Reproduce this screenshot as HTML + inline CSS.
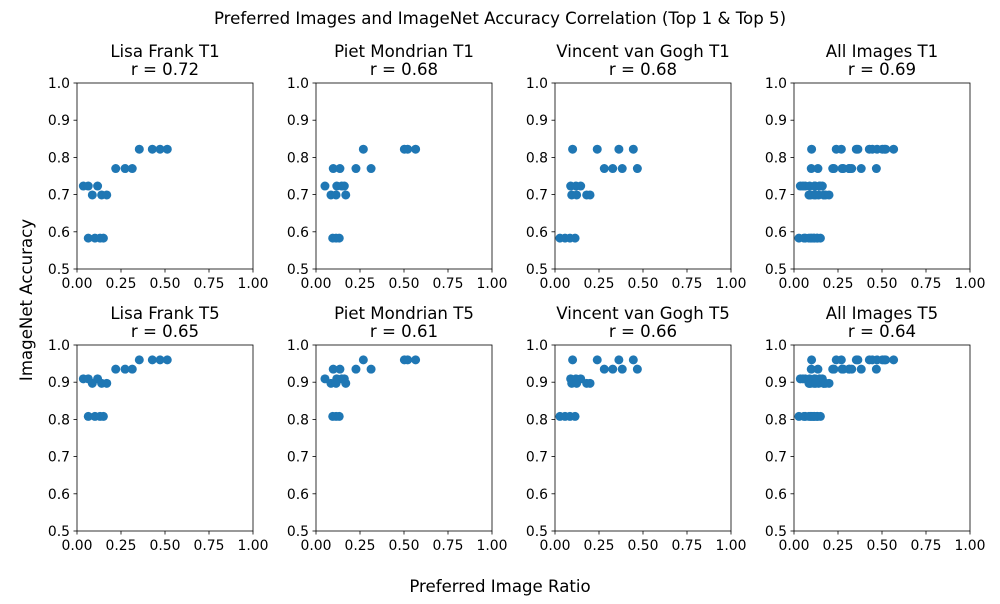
<!DOCTYPE html>
<html><head><meta charset="utf-8"><style>
body{margin:0;background:#fff;font-family:"DejaVu Sans",sans-serif}
svg text{font-family:"DejaVu Sans",sans-serif;fill:#000}
</style></head><body>
<svg id="chart" width="1000" height="600" xmlns="http://www.w3.org/2000/svg">
<text x="500" y="24" font-size="16.6" text-anchor="middle">Preferred Images and ImageNet Accuracy Correlation (Top 1 &amp; Top 5)</text>
<text x="500" y="592" font-size="16.6" text-anchor="middle">Preferred Image Ratio</text>
<text transform="translate(32,300) rotate(-90)" font-size="16.6" text-anchor="middle">ImageNet Accuracy</text>
</svg>
<script>
const lisaRatio=[0.036,0.064,0.117,0.087,0.14,0.169,0.064,0.102,0.131,0.15,0.22,0.273,0.314,0.354,0.428,0.472,0.513];
const lisaModel=[0,0,0,1,1,1,2,2,2,2,3,3,3,4,4,4,4];
const pietRatio=[0.051,0.118,0.146,0.161,0.085,0.114,0.169,0.095,0.114,0.132,0.098,0.136,0.227,0.313,0.269,0.502,0.521,0.566];
const pietModel=[0,0,0,0,1,1,1,2,2,2,3,3,3,3,4,4,4,4];
const vanRatio=[0.10,0.24,0.363,0.445,0.28,0.328,0.382,0.468,0.089,0.119,0.146,0.095,0.123,0.18,0.199,0.028,0.057,0.085,0.114];
const vanModel=[4,4,4,4,3,3,3,3,0,0,0,1,1,1,1,2,2,2,2];
const top1Acc=[0.723,0.699,0.583,0.770,0.822];
const top5Acc=[0.909,0.897,0.808,0.935,0.960];
const titles=["Lisa Frank","Piet Mondrian","Vincent van Gogh","All Images"];
const rT1=["0.72","0.68","0.68","0.69"];
const rT5=["0.65","0.61","0.66","0.64"];
const xTicks=[0,0.25,0.5,0.75,1.0];
const yTicks=[0.5,0.6,0.7,0.8,0.9,1.0];

const NS="http://www.w3.org/2000/svg";
const svg=document.getElementById('chart');
const ratios=[lisaRatio,pietRatio,vanRatio,lisaRatio.concat(pietRatio,vanRatio)];
const models=[lisaModel,pietModel,vanModel,lisaModel.concat(pietModel,vanModel)];
const lefts=[77,316,555,794],tops=[83,345],W=176,H=186;
function mk(t,a){const e=document.createElementNS(NS,t);for(const k in a)e.setAttribute(k,a[k]);svg.appendChild(e);return e;}
for(let r=0;r<2;r++)for(let c=0;c<4;c++){
  const L=lefts[c],T=tops[r];
  const sx=v=>L+v*W, sy=v=>T+H-(v-0.5)/0.5*H;
  const acc=r==0?top1Acc:top5Acc;
  const tag=(r==0?'t1':'t5')+'-'+c;
  const t=mk('text',{x:L+W/2,y:T-26,'font-size':16.6,'text-anchor':'middle'});
  
  
  t.textContent=titles[c]+(r==0?' T1':' T5');
  const t2=mk('text',{x:L+W/2,y:T-8,'font-size':16.6,'text-anchor':'middle'});
  
  
  t2.textContent='r = '+(r==0?rT1[c]:rT5[c]);
  xTicks.forEach(v=>{
    const ln=mk('line',{x1:sx(v),x2:sx(v),y1:T+H,y2:T+H+3.5,stroke:'#000','stroke-width':0.8});
    
    
    const tx=mk('text',{x:sx(v),y:T+H+19,'font-size':13.9,'text-anchor':'middle'});
    
    
    tx.textContent=v.toFixed(2);
  });
  yTicks.forEach(v=>{
    const ln=mk('line',{x1:L-3.5,x2:L,y1:sy(v),y2:sy(v),stroke:'#000','stroke-width':0.8});
    
    
    const tx=mk('text',{x:L-7,y:sy(v)+5,'font-size':13.9,'text-anchor':'end'});
    
    
    tx.textContent=v.toFixed(1);
  });
  const xs=ratios[c],ms=models[c];
  xs.forEach((x,i)=>{
    const p=mk('circle',{cx:sx(x),cy:sy(acc[ms[i]]),r:4.5,fill:'#1f77b4'});
    
    
  });
  const fr=mk('rect',{x:L,y:T,width:W,height:H,fill:'none',stroke:'#000','stroke-width':0.8});
  
  
}
</script>
</body></html>
